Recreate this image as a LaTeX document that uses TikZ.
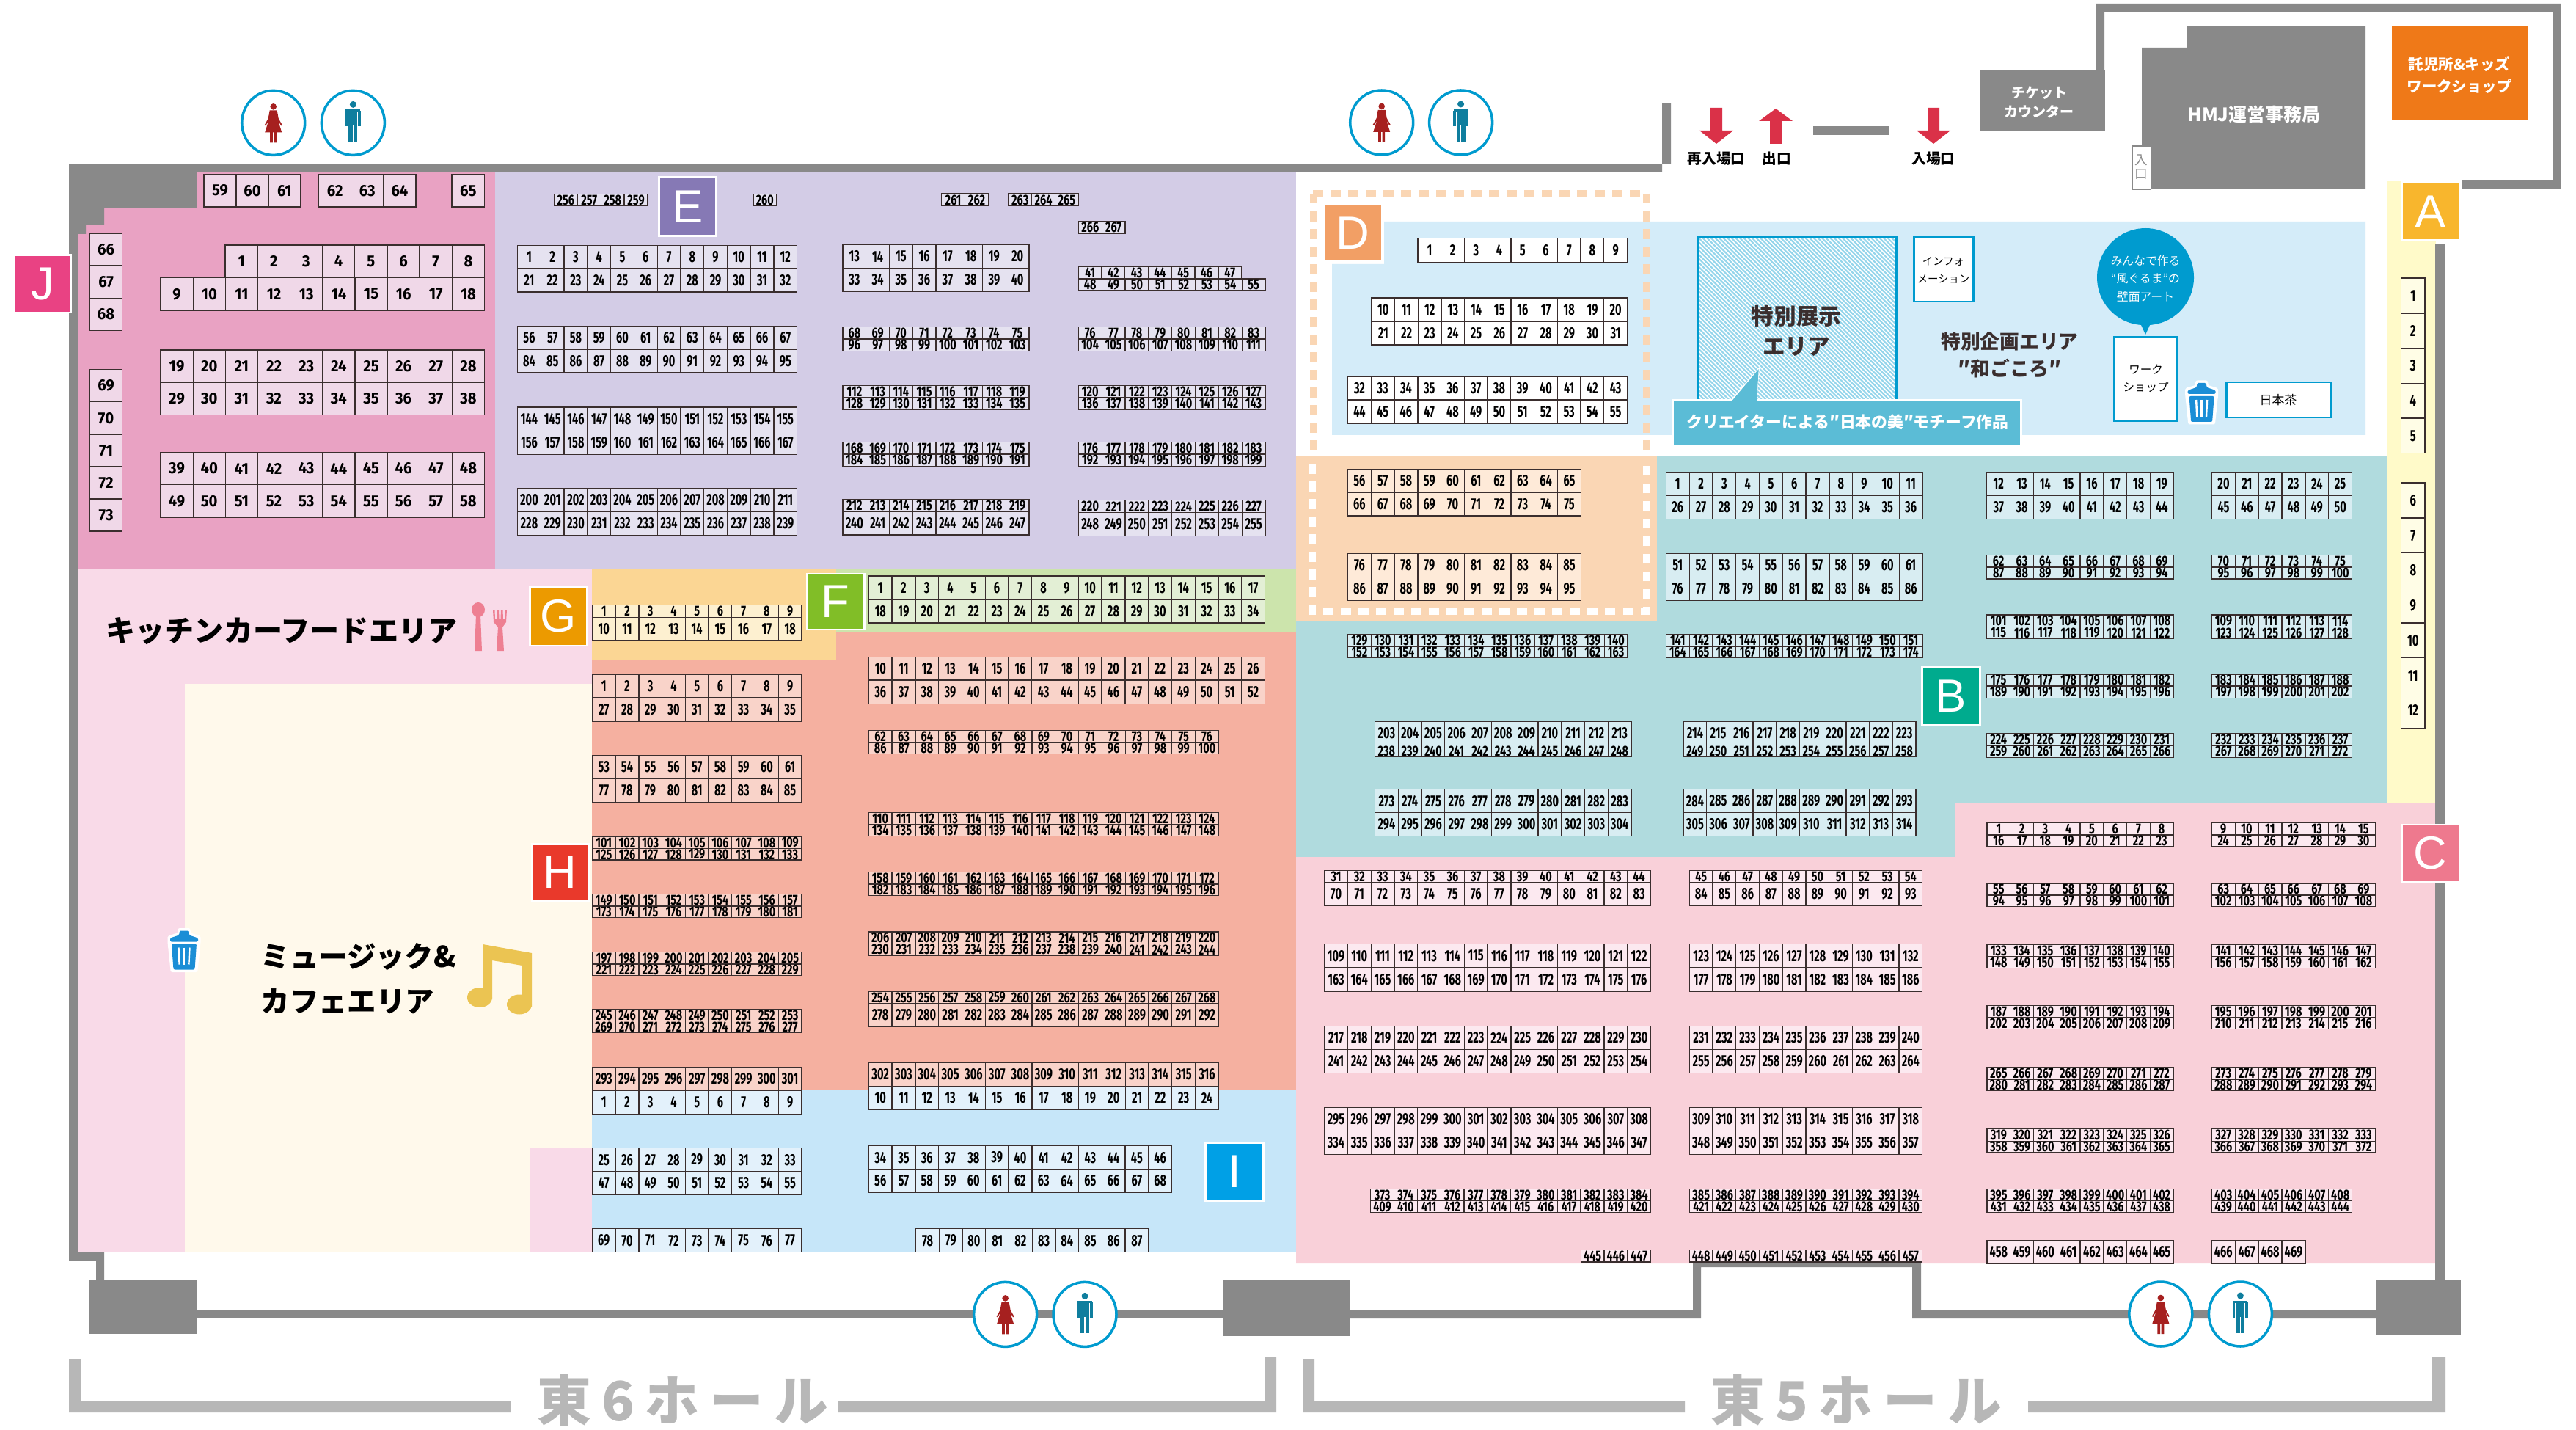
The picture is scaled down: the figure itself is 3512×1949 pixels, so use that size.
\documentclass[tikz,border=0pt]{standalone}
\usepackage{fontspec}
\newfontfamily\numf{Fira Sans}
\newfontfamily\jp{Noto Sans CJK JP}
\newfontfamily\latn{Liberation Sans}
\definecolor{wall}{HTML}{898989}
\definecolor{brk}{HTML}{B7B7B7}
\definecolor{ln}{HTML}{3A2E2E}
\definecolor{aJ}{HTML}{E9A2C3}\definecolor{cJ}{HTML}{F0D8E8}
\definecolor{aE}{HTML}{D3CCE6}\definecolor{cE}{HTML}{E5E2F0}
\definecolor{aF}{HTML}{CCE4AC}\definecolor{cF}{HTML}{E3EFD5}
\definecolor{aG}{HTML}{FBD694}\definecolor{cG}{HTML}{FDF0D0}
\definecolor{aH}{HTML}{F5B0A0}\definecolor{cH}{HTML}{F9D3C9}
\definecolor{aI}{HTML}{C6E6F9}\definecolor{cI}{HTML}{E3F1FB}
\definecolor{aB}{HTML}{B0DBDE}\definecolor{cB}{HTML}{D8EDF2}
\definecolor{aC}{HTML}{F9D0D9}\definecolor{cC}{HTML}{FCE9F0}
\definecolor{aA}{HTML}{FFFAC9}\definecolor{cA}{HTML}{FFFDE6}
\definecolor{aD}{HTML}{D4ECF9}\definecolor{aP}{HTML}{FAD6B4}\definecolor{cP}{HTML}{FEEAD8}
\definecolor{food}{HTML}{F9DAE8}\definecolor{cafe}{HTML}{FFF9EB}
\definecolor{blu}{HTML}{009BCF}\definecolor{redarrow}{HTML}{DA3148}
\definecolor{trash}{HTML}{1B8ED6}\definecolor{ladyc}{HTML}{A6201F}\definecolor{manc}{HTML}{0F7E9E}
\definecolor{orng}{HTML}{EF7918}\definecolor{callout}{HTML}{5BBCD6}\definecolor{utensil}{HTML}{EE7F92}\definecolor{notec}{HTML}{EBC452}
\tikzset{cell/.style={draw=ln,line width=0.37pt},
 tag/.style={draw=white,line width=0.85pt},
 taglet/.style={text=white,inner sep=0},
 jtxt/.style={inner sep=0,align=center},
 icon/.style={draw=blu,fill=white,line width=1pt}}
\newcommand\numbig{\numf\bfseries\fontsize{6.2}{7}\selectfont}
\newcommand\numsmall{\numf\bfseries\fontsize{5.6}{6}\selectfont}
% x0 x1 y0 y1 n start color
\newcommand\cellrow[7]{%
 \pgfmathsetmacro\cw{(#2-#1)/#5}%
 \pgfmathsetmacro\rh{#4-#3}%
 \ifdim\rh pt>26pt \let\nfont\numbig \def\dwn{13.04}\else \let\nfont\numsmall \def\dwn{11.85}\fi
 \pgfmathsetmacro\xs{min(1,.275*\cw/\dwn)}%
 \foreach \i in {1,...,#5}{%
  \pgfmathsetmacro\cx{#1+(\i-1)*\cw}%
  \pgfmathtruncatemacro\nm{#6+\i-1}%
  \draw[cell,fill=#7] (\cx,#3) rectangle ++(\cw,\rh);
  \node[inner sep=0] at (\cx+.5*\cw,.5*#3+.5*#4) {\nfont\scalebox{\xs}[1]{\nm}};
 }}
% x0 x1 y0 y1 y2 n s1 s2 color
\newcommand\blk[9]{\cellrow{#1}{#2}{#3}{#4}{#6}{#7}{#9}\cellrow{#1}{#2}{#4}{#5}{#6}{#8}{#9}}
\newcommand\lady[2]{\draw[icon] (#1,#2) ellipse (43 and 44);
 \begin{scope}[shift={(#1,#2)}]\fill[ladyc] (0,-22) circle (4.3);
 \fill[ladyc] (-5,-17)--(5,-17)--(7,-6)--(12,3)--(10.5,4)--(6.5,-3)--(11.5,13)--(4.5,13)--(4.5,27)--(.8,27)--(.8,13)--(-.8,13)--(-.8,27)--(-4.5,27)--(-4.5,13)--(-11.5,13)--(-6.5,-3)--(-10.5,4)--(-12,3)--(-7,-6)--cycle;\end{scope}}
\newcommand\gent[2]{\draw[icon] (#1,#2) ellipse (43 and 44);
 \begin{scope}[shift={(#1,#2)}]\fill[manc] (0,-25) circle (4.5);
 \fill[manc] (-10,-18) rectangle (10,-15); \fill[manc] (-10.5,-16) rectangle (-7,5);\fill[manc] (7,-16) rectangle (10.5,5);
 \fill[manc] (-6,-17) rectangle (6,4);\fill[manc] (-6,3) rectangle (-.8,26);\fill[manc] (.8,3) rectangle (6,26);\end{scope}}
\newcommand\bin[2]{\begin{scope}[shift={(#1,#2)}]
 \fill[white,draw=white,line width=1.42pt,line join=round] (-6,-27)--(6,-27)--(7,-21)--(20,-17)--(20,-10)--(16,28)--(-16,28)--(-20,-10)--(-20,-17)--(-7,-21)--cycle;
 \fill[trash,rounded corners=.43pt] (-6,-26)--(6,-26)--(7,-20)--(19,-16)--(19,-11)--(-19,-11)--(-19,-16)--(-7,-20)--cycle;
 \fill[trash,rounded corners=.57pt] (-17,-8)--(17,-8)--(14.5,27)--(-14.5,27)--cycle;
 \foreach \q in {-7.5,0,7.5}{\draw[white,line width=.68pt] (\q,-3)--(\q*.85,20);}\end{scope}}
\newcommand\darrow[1]{\fill[redarrow] (#1-8,147)--(#1+8,147)--(#1+8,178)--(#1+23,178)--(#1,196)--(#1-23,178)--(#1-8,178)--cycle;}
\newcommand\lettertag[6]{\fill[#5,tag] (#1,#3) rectangle (#2,#4); \node[taglet,font=\latn\fontsize{18}{18}\selectfont] at (.5*#1+.5*#2,.5*#3+.5*#4) {#6};}
\begin{document}
\begin{tikzpicture}[x=0.01cm,y=-0.01cm]
\useasboundingbox (0,0) rectangle (3512,1949);
\fill[white] (0,0) rectangle (3512,1949);
% areas
\fill[aJ] (106,319)--(117,319)--(117,307)--(142,307)--(142,283)--(268,283)--(268,235)--(675,235)--(675,775)--(106,775)--cycle;
\fill[aE] (675,235) rectangle (1767,776);
\fill[food] (106,775) rectangle (807,1707);
\fill[cafe] (252,932) rectangle (807,1707);
\fill[food] (723,1564) rectangle (807,1707);
\fill[aG] (807,775) rectangle (1140,900);
\fill[aF] (1140,775) rectangle (1767,862);
\fill[aH] (807,900)--(1140,900)--(1140,862)--(1767,862)--(1767,1486)--(807,1486)--cycle;
\fill[aI] (807,1486) rectangle (1767,1707);
\fill[aP] (1767,622) rectangle (2259,846);
\fill[aB] (2259,622)--(3254,622)--(3254,1095)--(2666,1095)--(2666,1168)--(1767,1168)--(1767,846)--(2259,846)--cycle;
\fill[aC] (1767,1168)--(2666,1168)--(2666,1095)--(3320,1095)--(3320,1722)--(1767,1722)--cycle;
\fill[aA] (3254,247) rectangle (3321,1095);
\fill[aD] (1887,302)--(3225,302)--(3225,593)--(1816,593)--(1816,360)--(1887,360)--cycle;
% dashes
\tikzset{dsh/.style={line width=2.56pt,dash pattern=on 3.84pt off 2.99pt}}
\draw[aP,dsh] (1790,264)--(2244,264);
\draw[aP,dsh] (1790,264)--(1790,622);
\draw[aP,dsh] (2244,264)--(2244,622);
\draw[white,dsh] (1789,632)--(1789,833)--(2244,833)--(2244,632);
% walls
\fill[wall] (94,224)--(2278,224)--(2278,141)--(2266,141)--(2266,235)--(268,235)--(268,283)--(142,283)--(142,307)--(117,307)--(117,319)--(106,319)--(106,1707)--(142,1707)--(142,1744)--(131,1744)--(131,1718)--(94,1718)--cycle;
\fill[wall] (122,1744) rectangle (269,1818);
\fill[wall] (269,1786) rectangle (1667,1797);
\fill[wall] (1667,1744) rectangle (1841,1821);
\fill[wall] (1841,1785)--(2308,1785)--(2308,1720)--(2619,1720)--(2619,1785)--(3240,1785)--(3240,1797)--(2607,1797)--(2607,1727)--(2319,1727)--(2319,1797)--(1841,1797)--cycle;
\fill[wall] (3240,1744) rectangle (3355,1819);
\fill[wall] (3320,332) rectangle (3333,1744);
\fill[wall] (2472,172) rectangle (2576,184.5);
\fill[wall] (2699,96) rectangle (2870,179);
\fill[wall] (2857,5)--(3491,5)--(3491,258)--(3357,258)--(3357,246)--(3480,246)--(3480,17)--(2869,17)--(2869,96)--(2857,96)--cycle;
\fill[wall] (2981,36)--(3225,36)--(3225,258)--(2920,258)--(2920,65)--(2981,65)--cycle;
\draw[wall,fill=white,line width=.43pt] (2907,199) rectangle (2932,258);
\fill[white] (2908,200) rectangle (2932,257);
\node[jtxt,text=wall,font=\jp\fontsize{5}{5}\selectfont] at (2919,218) {入};
\node[jtxt,text=wall,font=\jp\fontsize{5}{5}\selectfont] at (2919,238) {口};
\fill[orng] (3261,36) rectangle (3446,164);
% brackets
\fill[brk] (94,1852)--(110,1852)--(110,1909)--(696,1909)--(696,1925)--(94,1925)--cycle;
\fill[brk] (1142,1909)--(1725,1909)--(1725,1850)--(1740,1850)--(1740,1925)--(1142,1925)--cycle;
\fill[brk] (1777,1852)--(1792,1852)--(1792,1909)--(2297,1909)--(2297,1925)--(1777,1925)--cycle;
\fill[brk] (2765,1909)--(3316,1909)--(3316,1850)--(3334,1850)--(3334,1925)--(2765,1925)--cycle;
\node[jtxt,text=brk,font=\jp\bfseries\fontsize{21}{21}\selectfont] (h6) at (931,1908) {東\hspace{1.4mm}6\hspace{1.4mm}ホ\hspace{1.4mm}ー\hspace{1.4mm}ル};
\node[jtxt,text=brk,font=\jp\bfseries\fontsize{21}{21}\selectfont] (h5) at (2531,1908) {東\hspace{1.4mm}5\hspace{1.4mm}ホ\hspace{1.4mm}ー\hspace{1.4mm}ル};
% arrows
\darrow{2340}\darrow{2636}
\fill[redarrow] (2413,196)--(2429,196)--(2429,165)--(2444,165)--(2421,148)--(2398,165)--(2413,165)--cycle;
\node[jtxt,font=\jp\bfseries\fontsize{5.6}{6}\selectfont] at (2340,216) {再入場口};
\node[jtxt,font=\jp\bfseries\fontsize{5.6}{6}\selectfont] at (2422,216) {出口};
\node[jtxt,font=\jp\bfseries\fontsize{5.6}{6}\selectfont] at (2636,216) {入場口};
\node[jtxt,text=white,font=\jp\bfseries\fontsize{5.4}{7.4}\selectfont] at (2780,139.5) {チケット\\カウンター};
\node[jtxt,text=white,font=\jp\bfseries\fontsize{7.1}{8}\selectfont] at (3073,156) {HMJ運営事務局};
\node[jtxt,text=white,font=\jp\bfseries\fontsize{5.8}{8.5}\selectfont] at (3353,103) {託児所\&キッズ\\ワークショップ};
% toilets
\lady{372.7}{167.4}\gent{481.4}{167.4}
\lady{1883.7}{167}\gent{1991.6}{167}
\lady{1370.6}{1791.4}\gent{1479}{1791.4}
\lady{2945.8}{1791}\gent{3054.4}{1791}
% special area
\begin{scope}
 \clip (2315,323) rectangle (2585,545);
 \fill[white] (2315,323) rectangle (2585,545);
 \foreach \k in {0,5.6,...,500}{\draw[blu!42!white,line width=.6pt] (2315-240+\k,323-10)--(2315+\k,323+230);}
\end{scope}
\draw[blu,line width=1pt] (2315,560)--(2315,323)--(2585,323)--(2585,560);
\node[jtxt,text=ln,font=\jp\bfseries\fontsize{8.7}{11.7}\selectfont] at (2449,451) {特別展示\\エリア};
\draw[blu,fill=white,line width=.85pt] (2609,323) rectangle (2690,411);
\node[jtxt,font=\jp\fontsize{4.1}{6.9}\selectfont] at (2649.5,368) {インフォ\\メーション};
\fill[blu] (2925,311) ..controls (2961,311) and (2991,341) .. (2991,378) ..controls (2991,412) and (2966,440) .. (2931,443) -- (2925,456) -- (2919,443) ..controls (2884,440) and (2859,412) .. (2859,378) ..controls (2859,341) and (2889,311) .. (2925,311) -- cycle;
\node[jtxt,text=white,font=\jp\fontsize{4.5}{6.9}\selectfont] at (2925,380) {みんなで作る\\“風ぐるま”の\\壁面アート};
\draw[blu,fill=white,line width=.85pt] (2882.4,459) rectangle (2968.5,574);
\node[jtxt,font=\jp\fontsize{4.4}{6.9}\selectfont] at (2925.5,516) {ワーク\\ショップ};
\draw[blu,fill=white,line width=.85pt] (3035.5,521) rectangle (3178,569);
\node[jtxt,font=\jp\fontsize{4.8}{5}\selectfont] at (3106,545) {日本茶};
\node[jtxt,text=ln,font=\jp\bfseries\fontsize{7.6}{10.6}\selectfont] at (2740,484) {特別企画エリア\\″和ごころ″};
\fill[white] (2358,547)--(2395,547)--(2399,500)--cycle;
\fill[callout,draw=white,line width=.71pt] (2281,545) rectangle (2755.5,607.3);
\fill[callout] (2360.7,547)--(2395,547)--(2397.7,503)--cycle;
\node[jtxt,text=white,font=\jp\bfseries\fontsize{6.2}{6}\selectfont] at (2519,575) {クリエイターによる″日本の美″モチーフ作品};
\bin{3001.6}{548}
\bin{251}{1294.5}
% food + cafe text
\node[jtxt,font=\jp\bfseries\fontsize{11.4}{12}\selectfont] (fd) at (384,860) {キッチンカーフードエリア};
\node[jtxt,anchor=west,font=\jp\bfseries\fontsize{11.2}{17.3}\selectfont,align=left] (cf) at (355,1333.5) {ミュージック\&\\カフェエリア};
\fill[utensil] (652,831) ellipse (9 and 10);
\fill[utensil] (649,838)--(655,838)--(657,887)--(647,887)--cycle;
\fill[utensil] (672,832)--(674.5,832)--(675,843)--(677,843)--(677.5,832)--(680,832)--(680.5,843)--(682.5,843)--(683,832)--(685.5,832)--(686,843)--(688,843)--(688.5,832)--(691,832)--(690,848)--(685,855)--(687,887)--(677,887)--(679,855)--(673,848)--cycle;
\fill[notec] (658,1287)--(725,1299)--(725,1372)--(712,1372)--(712,1316)--(671,1309)--(671,1362)--(658,1362)--cycle;
\fill[notec] (654,1359.5) ellipse (17 and 13.5);
\fill[notec] (708,1369) ellipse (17 and 13.5);
% J
\cellrow{278}{410}{237.5}{282}{3}{59}{cJ}
\cellrow{434.7}{567}{237.5}{282}{3}{62}{cJ}
\cellrow{616}{660.5}{237.5}{282}{1}{65}{cJ}
\cellrow{307}{660.5}{334}{378.6}{8}{1}{cJ}
\cellrow{219}{660.5}{378.6}{423}{10}{9}{cJ}
\blk{219}{660.5}{477}{521.4}{565.6}{10}{19}{29}{cJ}
\blk{219}{660.5}{616.5}{660.7}{705}{10}{39}{49}{cJ}
\cellrow{122.4}{166.8}{318}{362}{1}{66}{cJ}
\cellrow{122.4}{166.8}{362}{406.7}{1}{67}{cJ}
\cellrow{122.4}{166.8}{406.7}{450.4}{1}{68}{cJ}
\cellrow{122.4}{166.8}{503.6}{547.8}{1}{69}{cJ}
\cellrow{122.4}{166.8}{547.8}{592}{1}{70}{cJ}
\cellrow{122.4}{166.8}{592}{635.7}{1}{71}{cJ}
\cellrow{122.4}{166.8}{635.7}{680}{1}{72}{cJ}
\cellrow{122.4}{166.8}{680}{724}{1}{73}{cJ}
% E
\blk{705.6}{1086.7}{334.4}{366}{398}{12}{1}{21}{cE}
\blk{705.6}{1086.7}{444.6}{476}{508}{12}{56}{84}{cE}
\blk{705.6}{1086.7}{555}{587.5}{619.6}{12}{144}{156}{cE}
\blk{705.6}{1086.7}{665.6}{697}{729.5}{12}{200}{228}{cE}
\cellrow{755.4}{883}{264.3}{280.8}{4}{256}{cE}
\cellrow{1027}{1058.5}{264.3}{280.8}{1}{260}{cE}
\cellrow{1283.6}{1347.5}{264}{280.8}{2}{261}{cE}
\cellrow{1374.8}{1470.3}{264}{280.8}{3}{263}{cE}
\cellrow{1470.3}{1534}{301.4}{318}{2}{266}{cE}
\blk{1149}{1403}{333.6}{365.7}{397.5}{8}{13}{33}{cE}
\cellrow{1470.3}{1692.6}{363.8}{379.9}{7}{41}{cE}
\cellrow{1470.3}{1725}{379.9}{396}{8}{48}{cE}
\blk{1149}{1403}{445.7}{462}{478.2}{8}{68}{96}{cE}
\blk{1470.3}{1725}{445.7}{462}{478.2}{8}{76}{104}{cE}
\blk{1149}{1403}{525.7}{542}{558.2}{8}{112}{128}{cE}
\blk{1470.3}{1725}{525.7}{542}{558.2}{8}{120}{136}{cE}
\blk{1149}{1403}{602.6}{619}{635.5}{8}{168}{184}{cE}
\blk{1470.3}{1725}{602.6}{619}{635.5}{8}{176}{192}{cE}
\blk{1149}{1403}{680.7}{697.5}{729}{8}{212}{240}{cE}
\blk{1470.3}{1725}{681.8}{698.7}{730.4}{8}{220}{248}{cE}
% D
\cellrow{1933}{2218.5}{324.6}{357.4}{9}{1}{white}
\blk{1870}{2218.5}{406}{438}{470}{11}{10}{21}{white}
\blk{1837.6}{2218.5}{513}{545}{577}{12}{32}{44}{white}
\blk{1837.5}{2155.4}{639.3}{670.9}{703}{10}{56}{66}{cP}
\blk{1837.5}{2155.4}{754.4}{786.3}{818.2}{10}{76}{86}{cP}
% A
\cellrow{3273.6}{3306}{379}{427}{1}{1}{cA}
\cellrow{3273.6}{3306}{427}{474.7}{1}{2}{cA}
\cellrow{3273.6}{3306}{474.7}{522.4}{1}{3}{cA}
\cellrow{3273.6}{3306}{522.4}{570}{1}{4}{cA}
\cellrow{3273.6}{3306}{570}{617.8}{1}{5}{cA}
\cellrow{3273.6}{3306}{658}{706}{1}{6}{cA}
\cellrow{3273.6}{3306}{706}{753.7}{1}{7}{cA}
\cellrow{3273.6}{3306}{753.7}{801.4}{1}{8}{cA}
\cellrow{3273.6}{3306}{801.4}{849}{1}{9}{cA}
\cellrow{3273.6}{3306}{849}{896.8}{1}{10}{cA}
\cellrow{3273.6}{3306}{896.8}{944.6}{1}{11}{cA}
\cellrow{3273.6}{3306}{944.6}{992.3}{1}{12}{cA}
% B
\blk{1837.5}{2219}{864.6}{881}{896.8}{12}{129}{152}{cB}
\blk{2271.4}{2621}{864.6}{881}{896.8}{11}{141}{164}{cB}
\blk{1874.5}{2224}{983}{1015.8}{1031.6}{11}{203}{238}{cB}
\blk{2295}{2612}{983}{1015.4}{1031.6}{10}{214}{249}{cB}
\blk{1874.5}{2224}{1075.8}{1107.7}{1139.3}{11}{273}{294}{cB}
\blk{2295}{2612}{1075.8}{1107.5}{1139.3}{10}{284}{305}{cB}
\blk{2271.4}{2621}{643.5}{675.4}{707.4}{11}{1}{26}{cB}
\blk{2271.4}{2621}{754.4}{786.7}{818.2}{11}{51}{76}{cB}
\blk{2708.8}{2963.3}{643.5}{675.4}{707.4}{8}{12}{37}{cB}
\blk{3015.6}{3206.5}{643.5}{675.4}{707.4}{6}{20}{45}{cB}
\blk{2708.8}{2963.3}{756.8}{773}{789}{8}{62}{87}{cB}
\blk{3015.6}{3206.5}{756.8}{773}{789}{6}{70}{95}{cB}
\blk{2708.8}{2963.3}{838}{854.4}{870.5}{8}{101}{115}{cB}
\blk{3015.6}{3206.5}{838}{854.4}{870.5}{6}{109}{123}{cB}
\blk{2708.8}{2963.3}{919}{935}{951.2}{8}{175}{189}{cB}
\blk{3015.6}{3206.5}{919}{935}{951.2}{6}{183}{197}{cB}
\blk{2708.8}{2963.3}{1000}{1016}{1032.3}{8}{224}{259}{cB}
\blk{3015.6}{3206.5}{1000}{1016}{1032.3}{6}{232}{267}{cB}
% F G H I
\blk{1184.3}{1724.5}{785}{817}{849}{17}{1}{18}{cF}
\blk{807.4}{1093}{824.6}{841.4}{872.9}{9}{1}{10}{cG}
\blk{807.4}{1093}{919.6}{951}{982.9}{9}{1}{27}{cH}
\blk{807.4}{1093}{1029.6}{1061.4}{1093.2}{9}{53}{77}{cH}
\blk{807.4}{1093}{1140}{1156.8}{1172}{9}{101}{125}{cH}
\blk{807.4}{1093}{1218.6}{1235}{1250.7}{9}{149}{173}{cH}
\blk{807.4}{1093}{1297.5}{1314}{1329.3}{9}{197}{221}{cH}
\blk{807.4}{1093}{1375.7}{1391.8}{1407.5}{9}{245}{269}{cH}
\cellrow{807.4}{1093}{1454.6}{1486.4}{9}{293}{cH}
\cellrow{807.4}{1093}{1486.4}{1518.2}{9}{1}{cI}
\blk{807.4}{1093}{1564.6}{1596.8}{1628.2}{9}{25}{47}{cI}
\cellrow{807.4}{1093}{1674.6}{1706.8}{9}{69}{cI}
\blk{1184.3}{1724.5}{895.7}{927}{959.3}{17}{10}{36}{cH}
\blk{1184.3}{1661.4}{995.7}{1012}{1027.5}{15}{62}{86}{cH}
\blk{1184.3}{1661.4}{1107.5}{1124}{1139.3}{15}{110}{134}{cH}
\blk{1184.3}{1661.4}{1188.6}{1205}{1220.4}{15}{158}{182}{cH}
\blk{1184.3}{1661.4}{1270}{1286.4}{1302}{15}{206}{230}{cH}
\blk{1184.3}{1661.4}{1351.4}{1367.5}{1399.3}{15}{254}{278}{cH}
\cellrow{1184.3}{1661.4}{1448.2}{1480.4}{15}{302}{cH}
\cellrow{1184.3}{1661.4}{1480.4}{1512.5}{15}{10}{cI}
\blk{1184.3}{1597.6}{1561.8}{1593.6}{1625.7}{13}{34}{56}{cI}
\cellrow{1248.7}{1565.7}{1674.6}{1706.8}{10}{78}{cI}
% C
\blk{1805.6}{2250.5}{1186.7}{1202.8}{1234.2}{14}{31}{70}{cC}
\blk{2303.3}{2620.7}{1186.7}{1202.8}{1234.2}{10}{45}{84}{cC}
\blk{1805.6}{2250.5}{1286.6}{1319}{1351}{14}{109}{163}{cC}
\blk{2303.3}{2620.7}{1286.6}{1319}{1351}{10}{123}{177}{cC}
\blk{1805.6}{2250.5}{1398.4}{1430.5}{1462.3}{14}{217}{241}{cC}
\blk{2303.3}{2620.7}{1398.4}{1430.5}{1462.3}{10}{231}{255}{cC}
\blk{1805.6}{2250.5}{1509.4}{1541.5}{1573.3}{14}{295}{334}{cC}
\blk{2303.3}{2620.7}{1509.4}{1541.5}{1573.3}{10}{309}{348}{cC}
\blk{1868.7}{2250.5}{1620.3}{1636.8}{1652.5}{12}{373}{409}{cC}
\blk{2303.3}{2620.7}{1620.3}{1636.8}{1652.5}{10}{385}{421}{cC}
\cellrow{2155.2}{2250.5}{1703.8}{1719.9}{3}{445}{cC}
\cellrow{2303.3}{2620.7}{1703.8}{1719.9}{10}{448}{cC}
\blk{2709}{2963}{1121.4}{1138}{1153.6}{8}{1}{16}{cC}
\blk{3015.3}{3238.3}{1121.4}{1138}{1153.6}{7}{9}{24}{cC}
\blk{2709}{2963}{1204}{1220}{1235.7}{8}{55}{94}{cC}
\blk{3015.3}{3238.3}{1204}{1220}{1235.7}{7}{63}{102}{cC}
\blk{2709}{2963}{1287.5}{1303.6}{1319.6}{8}{133}{148}{cC}
\blk{3015.3}{3238.3}{1287.5}{1303.6}{1319.6}{7}{141}{156}{cC}
\blk{2709}{2963}{1370.5}{1387}{1402.7}{8}{187}{202}{cC}
\blk{3015.3}{3238.3}{1370.5}{1387}{1402.7}{7}{195}{210}{cC}
\blk{2709}{2963}{1455}{1471}{1486.6}{8}{265}{280}{cC}
\blk{3015.3}{3238.3}{1455}{1471}{1486.6}{7}{273}{288}{cC}
\blk{2709}{2963}{1538.8}{1555.4}{1571}{8}{319}{358}{cC}
\blk{3015.3}{3238.3}{1538.8}{1555.4}{1571}{7}{327}{366}{cC}
\blk{2709}{2963}{1620.5}{1636.6}{1652.7}{8}{395}{431}{cC}
\blk{3015.3}{3206.6}{1620.5}{1636.6}{1652.7}{6}{403}{439}{cC}
\cellrow{2709}{2963}{1690.6}{1722.3}{8}{458}{cC}
\cellrow{3015.3}{3142.9}{1690.6}{1722.3}{4}{466}{cC}
% letter tags
\definecolor{tA}{HTML}{F8B62D}\definecolor{tB}{HTML}{00AB8E}\definecolor{tC}{HTML}{EE798E}\definecolor{tD}{HTML}{F29F65}\definecolor{tE}{HTML}{8679B5}
\definecolor{tF}{HTML}{81BE27}\definecolor{tG}{HTML}{EC9A00}\definecolor{tH}{HTML}{E9392B}\definecolor{tI}{HTML}{00A0E6}\definecolor{tJ}{HTML}{E94283}
\lettertag{3274}{3353}{249}{327.5}{tA}{A}
\lettertag{2620}{2699}{909}{988}{tB}{B}
\lettertag{3274.5}{3353}{1124}{1202}{tC}{C}
\lettertag{1805}{1884}{279}{357}{tD}{D}
\lettertag{898}{976.5}{242}{322}{tE}{E}
\lettertag{1100}{1178}{782}{858}{tF}{F}
\lettertag{722}{800}{800}{880}{tG}{G}
\lettertag{725}{802}{1150}{1228}{tH}{H}
\lettertag{1643.5}{1722.6}{1557.5}{1636}{tI}{I}
\lettertag{19}{97}{348}{426}{tJ}{J}
\end{tikzpicture}
\end{document}
